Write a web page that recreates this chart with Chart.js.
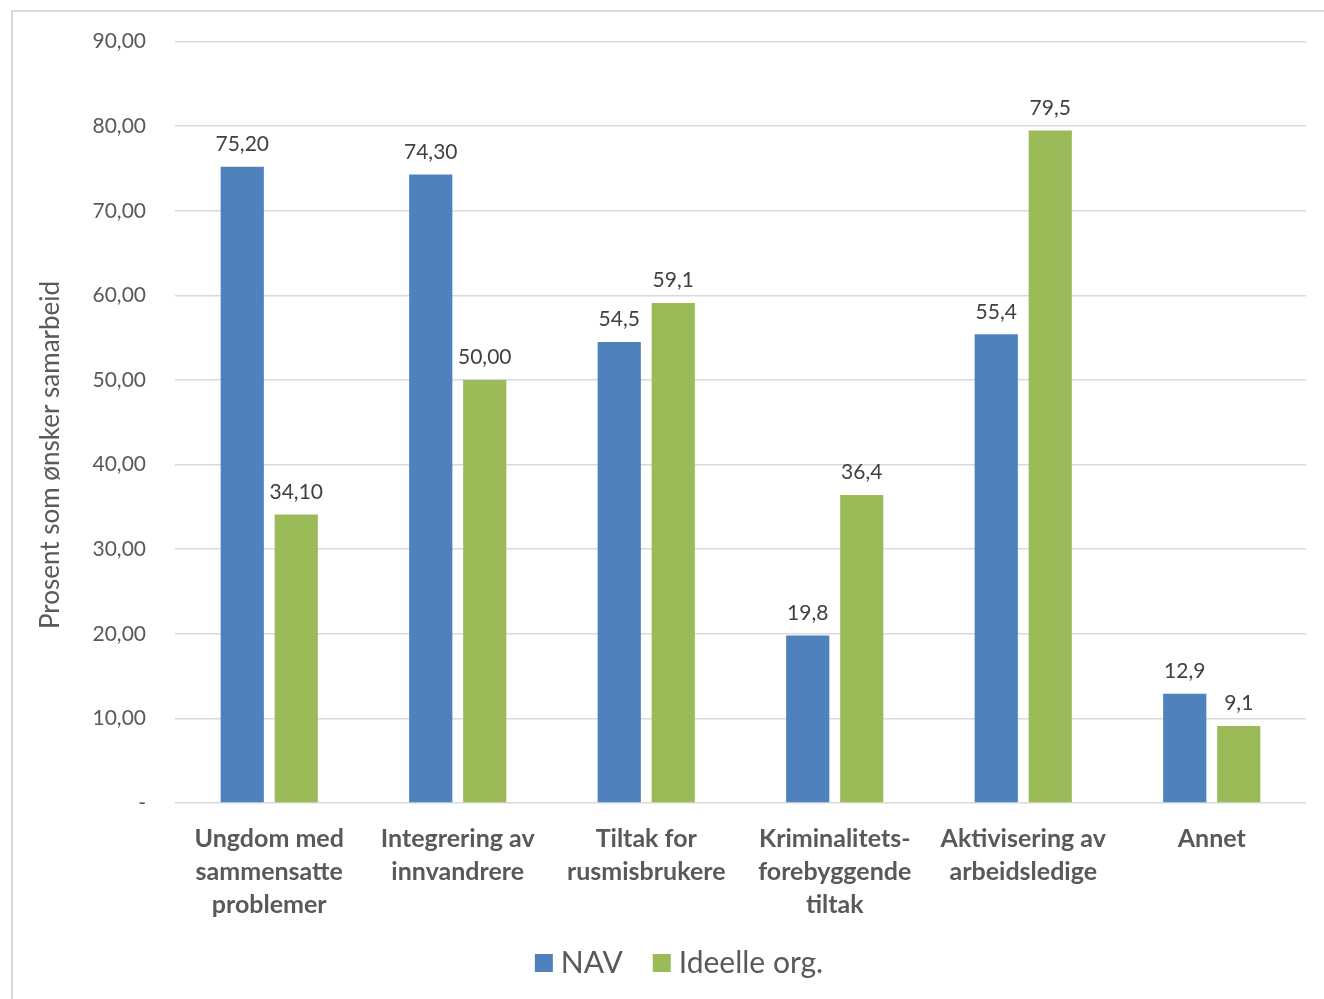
<!DOCTYPE html>
<html>
<head>
<meta charset="utf-8">
<script src="https://cdn.jsdelivr.net/npm/chart.js@4.4.1/dist/chart.umd.min.js"></script>
<style>
  html, body { margin: 0; padding: 0; background: #fff; }
  #wrap { position: relative; width: 1324px; height: 999px; }
</style>
</head>
<body>
<div id="wrap"><canvas id="bar-chart"></canvas></div>
<script>
var categories = [
    ["Ungdom med", "sammensatte", "problemer"],
    ["Integrering av", "innvandrere"],
    ["Tiltak for", "rusmisbrukere"],
    ["Kriminalitets-", "forebyggende", "tiltak"],
    ["Aktivisering av", "arbeidsledige"],
    ["Annet"]
];
var navValues = [75.2, 74.3, 54.5, 19.8, 55.4, 12.9];
var ideelleValues = [34.1, 50.0, 59.1, 36.4, 79.5, 9.1];
var navLabels = ["75,20", "74,30", "54,5", "19,8", "55,4", "12,9"];
var ideelleLabels = ["34,10", "50,00", "59,1", "36,4", "79,5", "9,1"];
var yTicks = [0, 10, 20, 30, 40, 50, 60, 70, 80, 90];

var FONT = "Lato, 'Open Sans', sans-serif";
var GREY = "#595959";

// labels over the bars, the frame, the y title and the legend
var extras = {
    id: 'extras',
    beforeDraw: function (chart) {
        var ctx = chart.ctx;
        ctx.save();
        ctx.strokeStyle = '#d9d9d9';
        ctx.lineWidth = 2;
        ctx.strokeRect(12, 11, 2000, 2000);
        ctx.restore();
    },
    afterDatasetsDraw: function (chart) {
        var ctx = chart.ctx;
        var texts = [navLabels, ideelleLabels];
        ctx.save();
        ctx.font = '21px ' + FONT;
        ctx.fillStyle = '#404040';
        ctx.textAlign = 'center';
        ctx.textBaseline = 'bottom';
        chart.data.datasets.forEach(function (ds, i) {
            chart.getDatasetMeta(i).data.forEach(function (bar, j) {
                ctx.fillText(texts[i][j], bar.x, bar.y - 12);
            });
        });
        ctx.restore();

        ctx.save();
        ctx.translate(51, 455);
        ctx.rotate(-Math.PI / 2);
        ctx.font = '26px ' + FONT;
        ctx.fillStyle = GREY;
        ctx.textAlign = 'center';
        ctx.textBaseline = 'middle';
        ctx.fillText('Prosent som ønsker samarbeid', 0, 0);
        ctx.restore();

        // legend
        ctx.save();
        ctx.font = '30px ' + FONT;
        ctx.textBaseline = 'middle';
        ctx.textAlign = 'left';
        var box = 18, gap = 8, between = 30, yMid = 963;
        var widths = chart.data.datasets.map(function (ds) {
            return box + gap + ctx.measureText(ds.label).width;
        });
        var total = widths.reduce(function (a, b) { return a + b; }, 0) + between * (widths.length - 1);
        var x = 679 - total / 2;
        chart.data.datasets.forEach(function (ds, i) {
            ctx.fillStyle = ds.backgroundColor;
            ctx.fillRect(x, yMid - box / 2, box, box);
            ctx.fillStyle = GREY;
            ctx.fillText(ds.label, x + box + gap, yMid);
            x += widths[i] + between;
        });
        ctx.restore();
    }
};

var ctx = document.getElementById('bar-chart');
new Chart(ctx, {
    type: 'bar',
    data: {
        labels: categories,
        datasets: [{
            label: 'NAV',
            data: navValues,
            backgroundColor: '#4f81bd',
            borderWidth: 0
        }, {
            label: 'Ideelle org.',
            data: ideelleValues,
            backgroundColor: '#9bbb59',
            borderWidth: 0
        }]
    },
    options: {
        responsive: true,
        maintainAspectRatio: false,
        animation: false,
        datasets: {
            bar: { barPercentage: 0.8, categoryPercentage: 0.573 }
        },
        layout: { padding: { left: 12, right: 18, top: 20, bottom: 80 } },
        plugins: {
            tooltip: { enabled: false },
            legend: { display: false }
        },
        scales: {
            x: {
                grid: { display: false },
                border: { display: false },
                ticks: {
                    font: { family: FONT, size: 25, weight: 'bold', lineHeight: 1.32 },
                    color: GREY,
                    padding: 11,
                    maxRotation: 0,
                    autoSkip: false
                },
                afterFit: function (scale) { scale.height = 116; }
            },
            y: {
                min: 0,
                max: 90,
                afterBuildTicks: function (scale) {
                    scale.ticks = yTicks.map(function (v) { return { value: v }; });
                },
                grid: { color: '#d9d9d9', lineWidth: 1.5, drawTicks: false },
                border: { display: false },
                ticks: {
                    font: { family: FONT, size: 21 },
                    color: GREY,
                    padding: 29,
                    callback: function (v) {
                        return v === 0 ? '-' : v.toFixed(2).replace('.', ',');
                    }
                },
                afterFit: function (scale) { scale.width = 163; }
            }
        }
    },
    plugins: [extras]
});
</script>
</body>
</html>
